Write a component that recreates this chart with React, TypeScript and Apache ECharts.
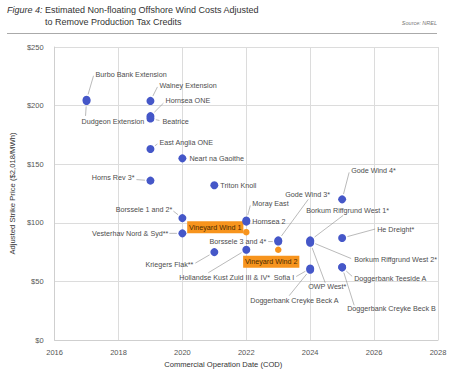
import React, { useEffect, useRef } from 'react';
import * as echarts from 'echarts';

const FONT = '"Liberation Sans", Arial, sans-serif';

const projects = [
  'Burbo Bank Extension',
  'Dudgeon Extension',
  'Walney Extension',
  'Hornsea ONE',
  'Beatrice',
  'East Anglia ONE',
  'Neart na Gaoithe',
  'Horns Rev 3*',
  'Triton Knoll',
  'Borssele 1 and 2*',
  'Vesterhav Nord & Syd**',
  'Kriegers Flak**',
  'Hollandse Kust Zuid III & IV*',
  'Moray East',
  'Hornsea 2',
  'Vineyard Wind 1',
  'Gode Wind 3*',
  'Borssele 3 and 4*',
  'Vineyard Wind 2',
  'Borkum Riffgrund West 1*',
  'Borkum Riffgrund West 2*',
  'OWP West*',
  'Sofia I',
  'Doggerbank Creyke Beck A',
  'Gode Wind 4*',
  'He Dreight*',
  'Doggerbank Teeside A',
  'Doggerbank Creyke Beck B',
];

const codYears = [
  2017, 2017, 2019, 2019, 2019, 2019, 2020, 2019, 2021, 2020, 2020, 2021, 2022, 2022,
  2022, 2022, 2023, 2023, 2023, 2024, 2024, 2024, 2024, 2024, 2025, 2025, 2025, 2025,
];

const strikePrices = [
  205, 204, 204, 191, 189, 163, 155, 136, 132, 104, 91, 75, 77, 102,
  101, 92, 85, 84, 77, 85, 84, 83, 61, 60, 120, 87, 62, 62,
];

const highlighted = ['Vineyard Wind 1', 'Vineyard Wind 2'];

const xMin = 2016;
const xMax = 2028;
const xStep = 2;
const yMin = 0;
const yMax = 250;
const yStep = 50;

// label placement (pixel offsets from each dot): [dx, dy, align]
const labelOffsets: [number, number, string][] = [
  [9, -25, 'left'],
  [-5, 21, 'left'],
  [9, -15, 'left'],
  [15, -16, 'left'],
  [12, 3, 'left'],
  [9, -6, 'left'],
  [7, 0, 'left'],
  [-16, -3, 'right'],
  [6, 0, 'left'],
  [-10, -9, 'right'],
  [-14, 0, 'right'],
  [-21, 12, 'right'],
  [-67, 28, 'left'],
  [6, -17, 'left'],
  [6, 0, 'left'],
  [-31, -5, 'center'],
  [7, -46, 'left'],
  [-12, 0, 'right'],
  [-7, 12, 'center'],
  [-4, -30, 'left'],
  [44, 18, 'left'],
  [-2, 44, 'left'],
  [-16, 9, 'right'],
  [-60, 31, 'left'],
  [9, -29, 'left'],
  [35, -9, 'left'],
  [12, 11, 'left'],
  [5, 41, 'left'],
];

// leader line end points (pixel offsets from each dot)
const leaderEnds: ([number, number] | null)[] = [
  [7, -24],
  [-1, 15],
  [7, -14],
  [13, -13],
  [9, 2],
  [7, -5],
  null,
  [-14, -1],
  null,
  [-9, -7],
  [-13, 0],
  [-19, 11],
  [-38, 23],
  [4, -15],
  null,
  null,
  [30, -41],
  [-10, 0],
  null,
  [33, -25],
  [41, 17],
  [15, 40],
  [-14, 8],
  [-21, 26],
  [7, -27],
  [33, -9],
  [10, 9],
  [12, 38],
];

export default function App() {
  const ref = useRef<HTMLDivElement>(null);

  useEffect(() => {
    const chart = echarts.init(ref.current!, null, { renderer: 'svg' });

    const allPoints = projects.map((n, i) => [codYears[i], strikePrices[i], n]);
    const bluePoints = allPoints.filter((p) => !highlighted.includes(p[2] as string));
    const orangePoints = allPoints.filter((p) => highlighted.includes(p[2] as string));

    const option: any = {
      animation: false,
      backgroundColor: '#ffffff',
      textStyle: { fontFamily: FONT },
      grid: { left: 52, right: 12, top: 47, bottom: 35, containLabel: false },
      xAxis: {
        type: 'value',
        min: xMin,
        max: xMax,
        interval: xStep,
        name: 'Commercial Operation Date (COD)',
        nameLocation: 'middle',
        nameGap: 20,
        nameTextStyle: { fontSize: 7.6, color: '#333', fontFamily: FONT, padding: [0, 46, 0, 0] },
        axisLine: { show: true, lineStyle: { color: '#cfcfcf', width: 1 } },
        axisTick: { show: false },
        axisLabel: {
          fontSize: 7.5,
          color: '#555',
          margin: 8,
          fontFamily: FONT,
          formatter: (v: number) => String(v),
        },
        splitLine: { show: true, lineStyle: { color: '#dcdcdc', width: 1 } },
      },
      yAxis: {
        type: 'value',
        min: yMin,
        max: yMax,
        interval: yStep,
        name: 'Adjusted Strike Price ($2,018/MWh)',
        nameLocation: 'middle',
        nameGap: 38,
        nameTextStyle: { fontSize: 7.7, color: '#333', fontFamily: FONT },
        axisLine: { show: true, lineStyle: { color: '#cfcfcf', width: 1 } },
        axisTick: { show: false },
        axisLabel: { fontSize: 7.5, color: '#555', margin: 11, fontFamily: FONT, formatter: '${value}' },
        splitLine: { show: true, lineStyle: { color: '#dcdcdc', width: 1 } },
      },
      graphic: [
        { type: 'text', left: 7, top: 5, style: { text: 'Figure 4:', fontSize: 9, fontStyle: 'italic', fill: '#333', fontFamily: FONT } },
        { type: 'text', left: 45, top: 5, style: { text: 'Estimated Non-floating Offshore Wind Costs Adjusted', fontSize: 9, fill: '#333', fontFamily: FONT } },
        { type: 'text', left: 45, top: 17, style: { text: 'to Remove Production Tax Credits', fontSize: 9, fill: '#333', fontFamily: FONT } },
        { type: 'text', right: 13, top: 19.5, style: { text: 'Source: NREL', fontSize: 5.5, fontStyle: 'italic', fill: '#777', fontFamily: FONT } },
        { type: 'line', shape: { x1: 7, y1: 33.5, x2: 437, y2: 33.5 }, style: { stroke: '#aaaaaa', lineWidth: 1 } },
      ],
      series: [
        {
          type: 'custom',
          z: 1,
          clip: false,
          silent: true,
          data: projects.map((_, i) => [codYears[i], strikePrices[i]]),
          encode: { x: 0, y: 1 },
          renderItem: (params: any, api: any) => {
            const i = params.dataIndex;
            const p = api.coord([api.value(0), api.value(1)]);
            const [dx, dy, align] = labelOffsets[i];
            const hl = highlighted.includes(projects[i]);
            const children: any[] = [];
            const end = leaderEnds[i];
            if (end) {
              const len = Math.hypot(end[0], end[1]);
              const r = 5.5;
              children.push({
                type: 'line',
                shape: {
                  x1: p[0] + (end[0] / len) * r,
                  y1: p[1] + (end[1] / len) * r,
                  x2: p[0] + end[0],
                  y2: p[1] + end[1],
                },
                style: { stroke: '#8c8c8c', lineWidth: 0.6 },
              });
            }
            const textStyle: any = {
              text: projects[i],
              x: p[0] + dx,
              y: p[1] + dy,
              align,
              verticalAlign: 'middle',
              fill: hl ? '#4a2c00' : '#4d4d4d',
              fontSize: 7.2,
              fontFamily: FONT,
            };
            if (hl) {
              textStyle.backgroundColor = '#F7941D';
              textStyle.padding = [2.5, 1.8];
            }
            children.push({ type: 'text', style: textStyle });
            return { type: 'group', children };
          },
        },
        {
          type: 'scatter',
          z: 3,
          symbolSize: 8,
          itemStyle: { color: '#4557C8', opacity: 1 },
          data: bluePoints,
        },
        {
          type: 'scatter',
          z: 3,
          symbolSize: 6.5,
          itemStyle: { color: '#F7941D', opacity: 1 },
          data: orangePoints,
        },
      ],
    };

    chart.setOption(option);
    return () => chart.dispose();
  }, []);

  return (
    <div
      ref={ref}
      style={{ position: 'fixed', left: 0, top: 0, width: 450, height: 375, background: '#fff' }}
    />
  );
}
